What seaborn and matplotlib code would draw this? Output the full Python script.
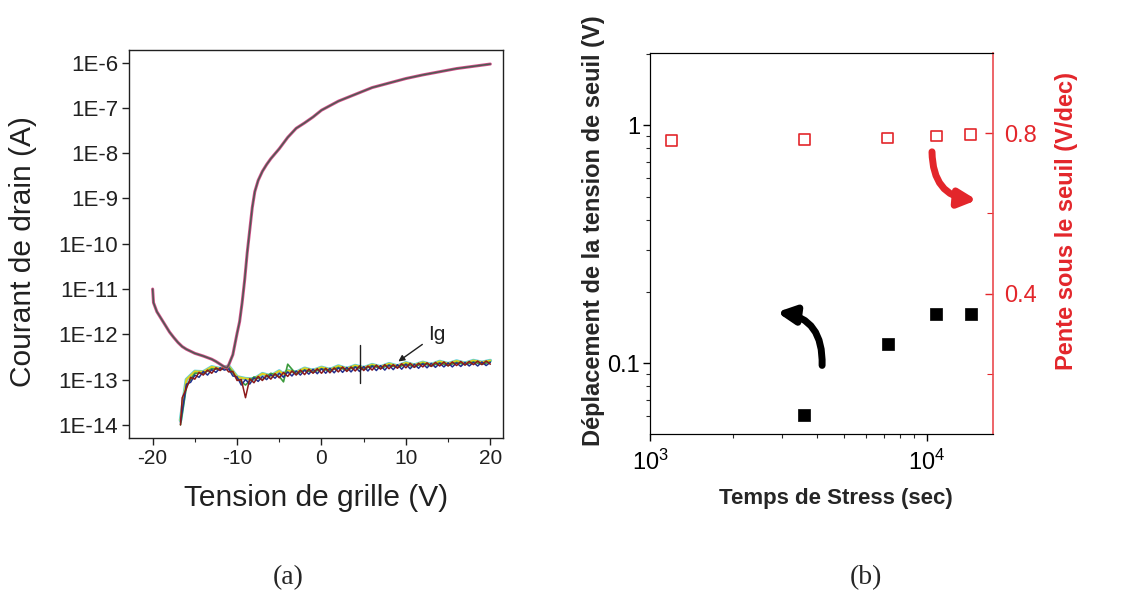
import numpy as np
import pandas as pd
import seaborn as sns
import matplotlib.pyplot as plt
from matplotlib.ticker import LogLocator, NullFormatter, FixedLocator

# ---------------- panel (a): transfer curves ----------------
# drain current (log10 A) vs gate voltage
id_vg = [-20.0, -19.9, -19.5, -19.0, -18.5, -18.0, -17.5, -17.0, -16.5, -16.0,
         -15.0, -14.0, -13.0, -12.5, -12.0, -11.5, -11.2, -11.0, -10.5, -10.0,
         -9.7, -9.4, -9.1, -8.8, -8.5, -8.2, -7.9, -7.5, -7.0, -6.5,
         -6.0, -5.0, -4.0, -3.0, -2.0, -1.0, 0.0, 2.0, 4.0, 6.0,
         8.0, 10.0, 12.0, 14.0, 16.0, 18.0, 20.0]
id_log = [-11.0, -11.3, -11.5, -11.65, -11.8, -11.95, -12.07, -12.18, -12.27, -12.33,
          -12.42, -12.48, -12.55, -12.6, -12.66, -12.72, -12.74, -12.68, -12.45, -11.98,
          -11.72, -11.3, -10.8, -10.2, -9.7, -9.2, -8.85, -8.6, -8.4, -8.25,
          -8.12, -7.9, -7.65, -7.45, -7.33, -7.2, -7.05, -6.85, -6.7, -6.55,
          -6.45, -6.35, -6.27, -6.2, -6.13, -6.08, -6.03]

# gate leakage current (log10 A), several sweeps
ig_vg = [-16.7, -16.5, -16.0, -15.5, -15.0, -14.5, -14.0, -13.5, -13.0, -12.5,
         -12.0, -11.5, -11.0, -10.5, -10.0, -9.5, -9.0, -8.5, -8.0, -7.5,
         -7.0, -6.5, -6.0, -5.5, -5.0, -4.5, -4.0, -3.5, -3.0, -2.5,
         -2.0, -1.5, -1.0, -0.5, 0.0, 0.5, 1.0, 1.5, 2.0, 2.5,
         3.0, 3.5, 4.0, 4.5, 5.0, 5.5, 6.0, 6.5, 7.0, 7.5,
         8.0, 8.5, 9.0, 9.5, 10.0, 10.5, 11.0, 11.5, 12.0, 12.5,
         13.0, 13.5, 14.0, 14.5, 15.0, 15.5, 16.0, 16.5, 17.0, 17.5,
         18.0, 18.5, 19.0, 19.5, 20.0]
ig_red = [-14.0, -13.4, -13.2, -12.95, -12.99, -12.84, -12.90, -12.79, -12.86, -12.74,
          -12.80, -12.71, -12.83, -12.82, -13.02, -13.0, -13.4, -12.98, -13.07, -12.93,
          -13.02, -12.90, -12.99, -12.87, -12.96, -12.84, -12.93, -12.81, -12.90, -12.79,
          -12.89, -12.77, -12.86, -12.76, -12.86, -12.75, -12.85, -12.74, -12.83, -12.72,
          -12.82, -12.72, -12.81, -12.70, -12.80, -12.70, -12.79, -12.68, -12.77, -12.67,
          -12.76, -12.67, -12.75, -12.65, -12.74, -12.64, -12.73, -12.64, -12.72, -12.63,
          -12.71, -12.62, -12.70, -12.61, -12.70, -12.61, -12.69, -12.60, -12.68, -12.60,
          -12.67, -12.59, -12.67, -12.59, -12.66]
ig_blue = [-13.95, -13.7, -13.1, -13.06, -12.90, -12.95, -12.82, -12.90, -12.78, -12.84,
           -12.74, -12.79, -12.76, -12.92, -12.94, -13.12, -13.00, -13.10, -12.96, -13.04,
           -12.93, -13.00, -12.89, -12.97, -12.86, -12.95, -12.83, -12.92, -12.81, -12.90,
           -12.79, -12.88, -12.77, -12.87, -12.76, -12.86, -12.75, -12.85, -12.74, -12.84,
           -12.73, -12.83, -12.72, -12.82, -12.71, -12.81, -12.70, -12.80, -12.69, -12.79,
           -12.68, -12.78, -12.67, -12.77, -12.66, -12.76, -12.66, -12.75, -12.65, -12.74,
           -12.64, -12.73, -12.64, -12.72, -12.63, -12.72, -12.63, -12.71, -12.62, -12.70,
           -12.62, -12.70, -12.61, -12.69, -12.62]

ig_vg2 = [-16.7, -16.0, -15.0, -14.0, -13.0, -12.0, -11.0, -10.0, -9.0, -8.0,
          -7.0, -6.0, -5.0, -4.5, -4.0, -3.0, -2.0, -1.0, 0.0, 1.0,
          2.0, 3.0, 4.0, 5.0, 6.0, 7.0, 8.0, 9.0, 10.0, 11.0,
          12.0, 13.0, 14.0, 15.0, 16.0, 17.0, 18.0, 19.0, 20.0]
ig_green = [-14.0, -13.15, -12.86, -12.86, -12.76, -12.78, -12.72, -12.98, -13.12, -12.94,
            -13.0, -12.86, -12.93, -13.05, -12.66, -12.88, -12.79, -12.84, -12.76, -12.81,
            -12.73, -12.79, -12.72, -12.77, -12.69, -12.75, -12.68, -12.73, -12.66, -12.72,
            -12.64, -12.70, -12.63, -12.69, -12.62, -12.67, -12.61, -12.66, -12.61]
ig_yellow = [-13.9, -13.0, -12.82, -12.83, -12.72, -12.76, -12.70, -12.94, -12.98, -12.99,
             -12.87, -12.92, -12.81, -12.88, -12.80, -12.84, -12.75, -12.80, -12.73, -12.78,
             -12.70, -12.76, -12.69, -12.74, -12.67, -12.72, -12.65, -12.70, -12.63, -12.68,
             -12.62, -12.67, -12.60, -12.65, -12.59, -12.64, -12.58, -12.62, -12.58]

spike_vg = [4.6, 4.6]
spike_log = [-12.23, -13.08]

# ---------------- panel (b): stress results ----------------
stress_time_s = [1200, 3600, 7200, 10800, 14400]
slope_vdec = [0.781, 0.784, 0.788, 0.793, 0.797]
shift_time = [3600, 7200, 10800, 14400]
vth_shift = [0.0605, 0.121, 0.161, 0.161]

RED = '#e3262b'

sns.set_style('ticks')
plt.rcParams['font.family'] = ['Liberation Sans', 'DejaVu Sans']
plt.rcParams['axes.unicode_minus'] = False

fig = plt.figure(figsize=(11.35, 5.94), dpi=100)

# ---- (a)
ax = fig.add_axes([129 / 1135, 1 - 438 / 594, 374 / 1135, 388 / 594])


def draw(x, ylog, color, lw, z):
    d = pd.DataFrame({'x': x, 'y': 10.0 ** np.array(ylog)})
    sns.lineplot(data=d, x='x', y='y', ax=ax, color=color, lw=lw,
                 sort=False, estimator=None, zorder=z)


draw(ig_vg2, ig_yellow, '#5fd0d8', 2.6, 2)
draw(ig_vg2, ig_yellow, '#e0d020', 1.5, 3)
draw(ig_vg2, ig_green, '#3c9a3c', 1.2, 4)
draw(ig_vg, ig_blue, '#22308f', 1.1, 5)
draw(ig_vg, ig_red, '#8c1a1a', 1.1, 6)
draw(spike_vg, spike_log, '#202020', 1.0, 7)
draw(id_vg, id_log, '#d6508c', 2.2, 8)
draw(id_vg, id_log, '#4e5a52', 1.1, 9)

ax.set_yscale('log')
ax.set_xlim(-22.8, 21.5)
ax.set_ylim(10 ** -14.29, 10 ** -5.72)
ax.set_xticks([-20, -10, 0, 10, 20])
ax.xaxis.set_minor_locator(FixedLocator([-15, -5, 5, 15]))
decades = list(range(-14, -5))
ax.set_yticks([10.0 ** d for d in decades])
ax.set_yticklabels(['1E%d' % d for d in decades])
ax.yaxis.set_minor_locator(LogLocator(base=10, subs=np.arange(2, 10)))
ax.yaxis.set_minor_formatter(NullFormatter())
ax.tick_params(axis='both', which='major', direction='out', length=5, width=1,
               colors='#202020', pad=3)
ax.tick_params(axis='x', which='major', labelsize=15)
ax.tick_params(axis='y', which='major', labelsize=16)
ax.tick_params(axis='both', which='minor', direction='out', length=3, width=0.8)
for s in ax.spines.values():
    s.set_color('#202020')
    s.set_linewidth(1.0)
ax.set_xlabel('Tension de grille (V)', fontsize=21.5, color='#202020')
ax.set_ylabel('Courant de drain (A)', fontsize=21.5, color='#202020')
ax.xaxis.set_label_coords(0.5, -0.118)
ax.yaxis.set_label_coords(-0.245, 0.48)

ax.annotate('Ig', xy=(9.1, 10 ** -12.6), xytext=(12.6, 10 ** -12.0),
            fontsize=15, ha='left', va='center', color='#202020',
            arrowprops=dict(arrowstyle='-|>', color='#202020', lw=1.0,
                            mutation_scale=9, shrinkA=2, shrinkB=0))

# ---- (b)
bx = fig.add_axes([650 / 1135, 1 - 434 / 594, 343 / 1135, 381 / 594])
bx2 = bx.twinx()

sns.scatterplot(x=shift_time, y=vth_shift, ax=bx, marker='s', s=70,
                color='black', edgecolor='black', linewidth=0.5, zorder=5)
sns.scatterplot(x=stress_time_s, y=slope_vdec, ax=bx2, marker='s', s=62,
                facecolor='none', edgecolor=RED, linewidth=1.2, zorder=5)

bx.set_xscale('log')
bx.set_yscale('log')
bx.set_xlim(1000, 17300)
bx.set_ylim(0.0505, 2.01)
bx.set_xticks([1e3, 1e4])
bx.set_xticklabels(['$\\mathregular{10^3}$', '$\\mathregular{10^4}$'])
bx.xaxis.set_minor_locator(LogLocator(base=10, subs=np.arange(2, 10)))
bx.xaxis.set_minor_formatter(NullFormatter())
bx.set_yticks([0.1, 1])
bx.set_yticklabels(['0.1', '1'])
bx.yaxis.set_minor_locator(LogLocator(base=10, subs=np.arange(2, 10)))
bx.yaxis.set_minor_formatter(NullFormatter())
bx.tick_params(axis='both', which='major', direction='out', length=5, width=1,
               labelsize=17, colors='black', pad=2)
bx.tick_params(axis='both', which='minor', direction='out', length=3, width=0.8)
bx.tick_params(axis='x', which='major', pad=6)

bx2.set_ylim(0.05, 1.0)
bx2.set_yticks([0.4, 0.8])
bx2.set_yticklabels(['0.4', '0.8'])
bx2.yaxis.set_minor_locator(FixedLocator([0.2, 0.6]))
bx2.tick_params(axis='y', which='major', direction='in', length=6, width=1,
                labelsize=17, colors=RED, pad=8)
bx2.tick_params(axis='y', which='minor', direction='in', length=4, width=0.8,
                colors=RED)

for s in ['left', 'bottom', 'top']:
    bx.spines[s].set_color('black')
    bx2.spines[s].set_color('black')
bx2.spines['right'].set_color('#ea4a4f')
bx2.spines['right'].set_linewidth(1.2)
bx.spines['right'].set_visible(False)

bx.set_xlabel('Temps de Stress (sec)', fontsize=16, fontweight='bold')
bx.set_ylabel('Déplacement de la tension de seuil (V)', fontsize=17,
              fontweight='bold')
bx2.set_ylabel('Pente sous le seuil (V/dec)', fontsize=17, fontweight='bold',
               color=RED)
bx.xaxis.set_label_coords(0.542, -0.142)
bx.yaxis.set_label_coords(-0.13, 0.533)
bx2.yaxis.set_label_coords(1.18, 0.559)

# curved arrows
bx.annotate('', xy=(2870, 0.164), xytext=(4180, 0.098),
            arrowprops=dict(arrowstyle='-|>', color='black', lw=5,
                            mutation_scale=26, connectionstyle='arc3,rad=0.45',
                            shrinkA=0, shrinkB=0))
bx.annotate('', xy=(15140, 0.485), xytext=(10420, 0.773),
            arrowprops=dict(arrowstyle='-|>', color=RED, lw=5,
                            mutation_scale=26, connectionstyle='arc3,rad=0.45',
                            shrinkA=0, shrinkB=0))

# panel captions
fig.text(288 / 1135, 1 - 578 / 594, '(a)', fontsize=20, ha='center', va='center',
         family=['Liberation Serif', 'DejaVu Serif'])
fig.text(866 / 1135, 1 - 578 / 594, '(b)', fontsize=20, ha='center', va='center',
         family=['Liberation Serif', 'DejaVu Serif'])

fig.savefig('out.png', dpi=100)
